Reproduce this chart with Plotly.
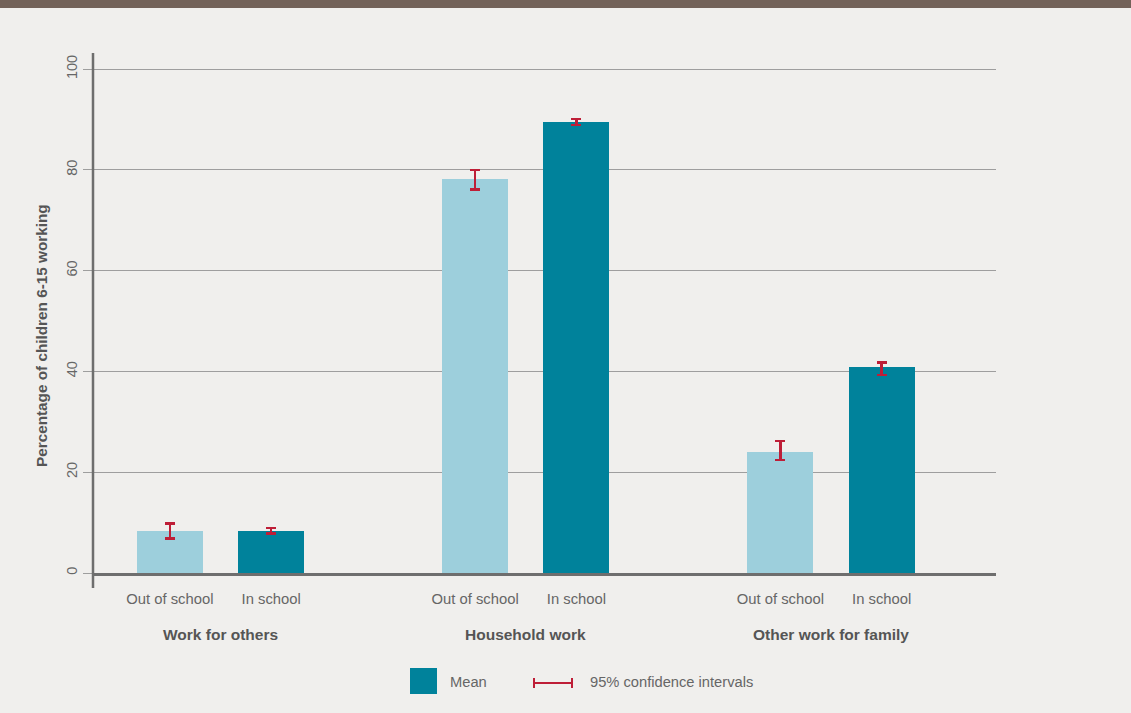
import plotly.graph_objects as go

# ---- data ----
groups = ["Work for others", "Household work", "Other work for family"]
status = ["Out of school", "In school"]
mean_out = [8.3, 78.2, 24.0]
low_out = [6.8, 76.1, 22.4]
high_out = [9.8, 80.0, 26.2]
mean_in = [8.3, 89.5, 40.8]
low_in = [7.8, 88.9, 39.3]
high_in = [8.9, 90.1, 41.8]
y_ticks = [0, 20, 40, 60, 80, 100]

# ---- style ----
W, H = 1131, 713
ML, MR, MT, MB = 93, 135, 53, 140
PW, PH = W - ML - MR, H - MT - MB
BG = "#F0EFED"
LIGHT = "#9DCFDC"
DARK = "#00829B"
RED = "#BE1E37"
TXT = "#666666"
BOLD_TXT = "#555555"
FONT = "Liberation Sans Narrow, Arial Narrow, Liberation Sans, sans-serif"

GROUP_PX = 305.25   # pixel distance between group centres
FIRST_PX = 220.5    # pixel position of the first group centre
OFFSET = 0.166      # bar centre offset from group centre (in group units)
BAR_W = 0.216


def px_x(p):
    return (p - ML) / PW


def px_y(p):
    return (H - MB - p) / PH


gx = list(range(len(groups)))
x_out = [g - OFFSET for g in gx]
x_in = [g + OFFSET for g in gx]

fig = go.Figure()


def err(mean, low, high):
    return dict(type="data", symmetric=False,
                array=[h - m for m, h in zip(mean, high)],
                arrayminus=[m - l for m, l in zip(mean, low)],
                color=RED, thickness=2.5, width=5)


fig.add_trace(go.Bar(x=x_out, y=mean_out, width=BAR_W, marker_color=LIGHT,
                     marker_line_width=0, error_y=err(mean_out, low_out, high_out),
                     name=status[0], showlegend=False))
fig.add_trace(go.Bar(x=x_in, y=mean_in, width=BAR_W, marker_color=DARK,
                     marker_line_width=0, error_y=err(mean_in, low_in, high_in),
                     name=status[1], showlegend=False))

tick_x = []
tick_t = []
for a, b in zip(x_out, x_in):
    tick_x += [a, b]
    tick_t += status

shapes = [
    # header band
    dict(type="rect", xref="paper", yref="paper", x0=px_x(0), x1=px_x(W),
         y0=px_y(8), y1=px_y(0), fillcolor="#736259", line_width=0, layer="above"),
    # vertical axis line, running a little below the baseline
    dict(type="line", xref="paper", yref="paper", x0=0, x1=0,
         y0=px_y(588), y1=1, line=dict(color="#6E6E6E", width=2.5)),
    # legend: mean swatch
    dict(type="rect", xref="paper", yref="paper", x0=px_x(410), x1=px_x(437),
         y0=px_y(694), y1=px_y(668), fillcolor=DARK, line_width=0),
    # legend: confidence interval glyph
    dict(type="line", xref="paper", yref="paper", x0=px_x(534), x1=px_x(572),
         y0=px_y(683), y1=px_y(683), line=dict(color=RED, width=2)),
    dict(type="line", xref="paper", yref="paper", x0=px_x(534), x1=px_x(534),
         y0=px_y(678), y1=px_y(688), line=dict(color=RED, width=2)),
    dict(type="line", xref="paper", yref="paper", x0=px_x(572), x1=px_x(572),
         y0=px_y(678), y1=px_y(688), line=dict(color=RED, width=2)),
]

annotations = [
    dict(text=g, x=i, xref="x", y=px_y(634), yref="paper", showarrow=False,
         font=dict(family=FONT, size=15.5, color=BOLD_TXT, weight="bold"),
         xanchor="center", yanchor="middle")
    for i, g in enumerate(groups)
]
annotations += [
    dict(text="Percentage of children 6-15 working", textangle=-90,
         x=px_x(41), xref="paper", y=px_y(336), yref="paper", showarrow=False,
         font=dict(family=FONT, size=15.3, color=BOLD_TXT, weight="bold"),
         xanchor="center", yanchor="middle"),
    dict(text="Mean", x=px_x(448), xref="paper", y=px_y(682), yref="paper",
         showarrow=False, font=dict(family=FONT, size=14.7, color=TXT),
         xanchor="left", yanchor="middle"),
    dict(text="95% confidence intervals", x=px_x(588), xref="paper", y=px_y(682),
         yref="paper", showarrow=False, font=dict(family=FONT, size=14.7, color=TXT),
         xanchor="left", yanchor="middle"),
]

fig.update_layout(
    width=W, height=H,
    margin=dict(l=ML, r=MR, t=MT, b=MB, pad=0),
    paper_bgcolor=BG, plot_bgcolor=BG,
    font=dict(family=FONT, size=15, color=TXT),
    xaxis=dict(range=[(ML - FIRST_PX) / GROUP_PX, (ML + PW - FIRST_PX) / GROUP_PX],
               tickvals=tick_x, ticktext=tick_t, ticks="",
               ticklabelstandoff=10,
               showgrid=False, zeroline=False,
               showline=True, linecolor="#6E6E6E", linewidth=2.5,
               tickfont=dict(family=FONT, size=14.8, color=TXT)),
    yaxis=dict(range=[0, 103.2], tickvals=y_ticks, tickangle=-90,
               showgrid=True, gridcolor="#9E9E9E", gridwidth=1.3,
               ticks="outside", ticklen=9, tickcolor="#9E9E9E", tickwidth=1.3,
               zeroline=False, showline=False,
               tickfont=dict(family=FONT, size=14.5, color=TXT)),
    shapes=shapes,
    annotations=annotations,
    bargap=0,
)

fig.write_html("out.html")
